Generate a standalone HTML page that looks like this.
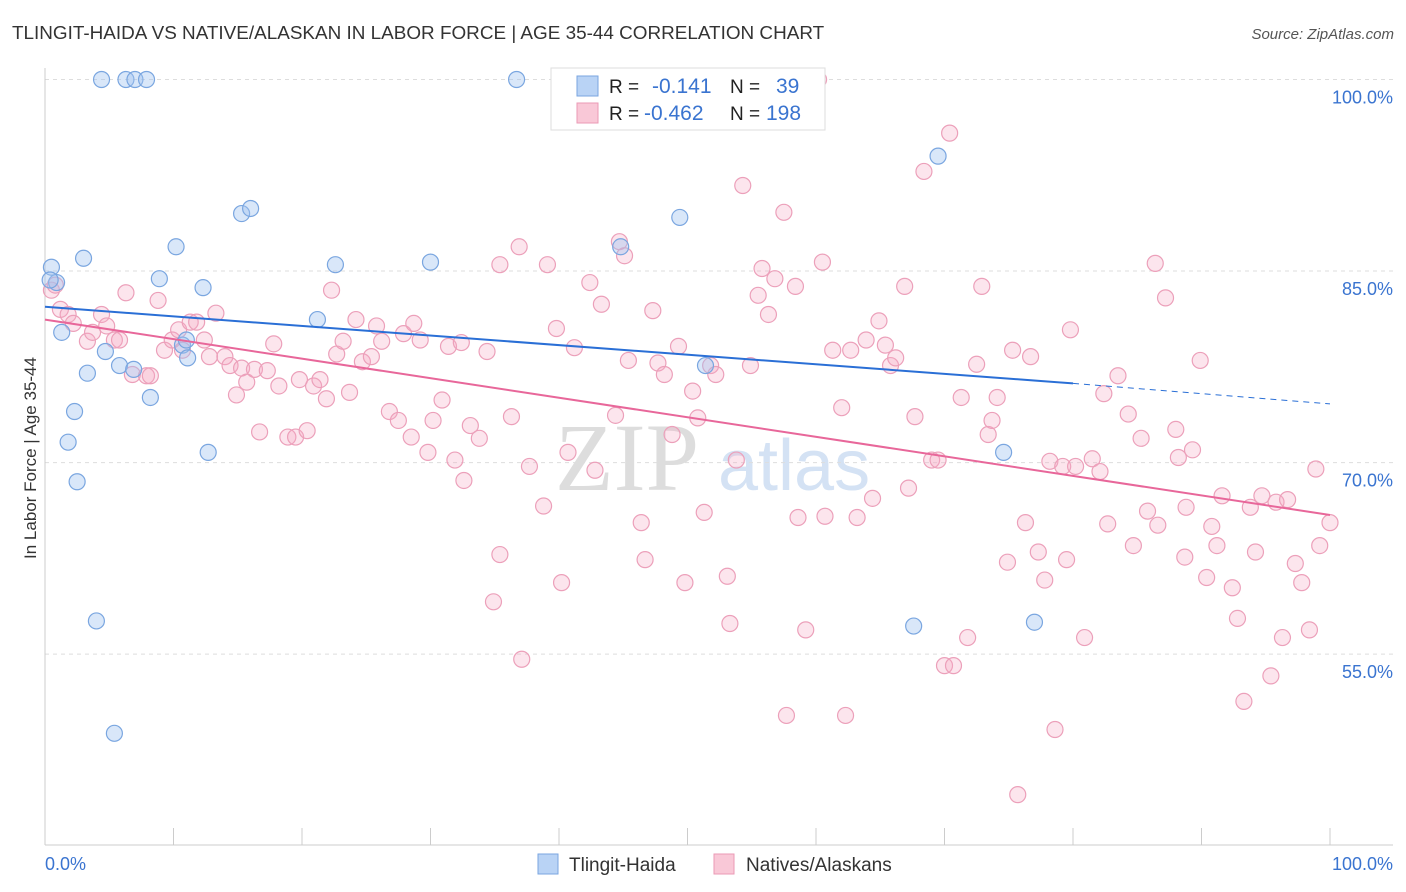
<!DOCTYPE html>
<html><head><meta charset="utf-8"><style>
body{margin:0;background:#fff;font-family:"Liberation Sans",sans-serif;}
svg{display:block}
</style></head><body>
<svg id="chart" width="1406" height="892">
<text x="12" y="39" font-size="18.9" fill="#333">TLINGIT-HAIDA VS NATIVE/ALASKAN IN LABOR FORCE | AGE 35-44 CORRELATION CHART</text>
<text x="1394" y="39" font-size="15" fill="#555" font-style="italic" text-anchor="end">Source: ZipAtlas.com</text>
<text x="36" y="458" font-size="17" fill="#333" text-anchor="middle" transform="rotate(-90 36 458)">In Labor Force | Age 35-44</text>
<text x="555" y="490" font-size="96" fill="#ddd" font-family="Liberation Serif,serif">ZIP</text>
<text x="718" y="490" font-size="72" fill="#d4e2f4">atlas</text>
<g id="grid"></g>
<g id="axes"></g>
<g id="pts"></g>
<g id="lines"></g>
<g>
<rect x="551" y="68" width="274" height="62" fill="#fff" stroke="#ddd"/>
<rect x="577" y="76" width="21" height="20" fill="#b9d3f5" stroke="#7aa6e0"/>
<rect x="577" y="103" width="21" height="20" fill="#f9c8d7" stroke="#eb9ab5"/>
<text x="609" y="93" font-size="19" fill="#222">R =</text>
<text x="652" y="93" font-size="21" fill="#3a74d0">-0.141</text>
<text x="730" y="93" font-size="19" fill="#222">N =</text>
<text x="776" y="93" font-size="21" fill="#3a74d0">39</text>
<text x="609" y="120" font-size="19" fill="#222">R =</text>
<text x="644" y="120" font-size="21" fill="#3a74d0">-0.462</text>
<text x="730" y="120" font-size="19" fill="#222">N =</text>
<text x="766" y="120" font-size="21" fill="#3a74d0">198</text>
</g>
<g>
<rect x="538" y="854" width="20" height="20" fill="#b9d3f5" stroke="#7aa6e0"/>
<text x="569" y="871" font-size="19" fill="#333">Tlingit-Haida</text>
<rect x="714" y="854" width="20" height="20" fill="#f9c8d7" stroke="#eb9ab5"/>
<text x="746" y="871" font-size="19" fill="#333">Natives/Alaskans</text>
</g>
</svg>
<script>
const yTicks=[100,85,70,55];
const yTickLabels=["100.0%","85.0%","70.0%","55.0%"];
const xTicks=[0,10,20,30,40,50,60,70,80,90,100];
const xEndLabels=["0.0%","100.0%"];
const blueX=[0.9,0.5,3.0,1.3,3.3,2.3,1.8,2.5,4.0,5.4,4.4,6.3,7.0,7.9,4.7,5.8,6.9,8.2,8.9,10.2,10.7,11.1,12.3,12.7,15.3,16.0,21.2,22.6,30.0,36.7,44.8,49.4,51.4,67.6,69.5,74.6,77.0,0.4,11.0];
const blueY=[84.1,85.3,86.0,80.2,77.0,74.0,71.6,68.5,57.6,48.8,100,100,100,100,78.7,77.6,77.3,75.1,84.4,86.9,79.2,78.2,83.7,70.8,89.5,89.9,81.2,85.5,85.7,100,86.9,89.2,77.6,57.2,94.0,70.8,57.5,84.3,79.6];
const pinkX=[0.5,0.8,1.2,1.8,2.2,3.3,3.7,4.4,4.8,5.4,5.8,6.3,6.8,7.9,8.2,8.8,9.3,9.9,10.4,10.7,11.3,11.8,12.4,12.8,13.3,14.0,14.4,14.9,15.3,15.7,16.3,16.7,17.3,17.8,18.2,18.9,19.5,19.8,20.4,20.9,21.4,21.9,22.3,22.7,23.2,23.7,24.2,24.7,25.4,25.8,26.2,26.8,27.5,27.9,28.5,28.7,29.2,29.8,30.2,30.9,31.4,31.9,32.4,32.6,33.1,33.8,34.4,34.9,35.4,35.4,36.3,36.9,37.1,37.7,38.8,39.1,39.8,40.2,40.7,41.2,42.4,42.8,43.3,44.4,44.7,45.1,45.4,46.4,46.7,47.3,47.7,48.2,48.8,49.3,49.8,50.4,50.8,51.3,51.8,52.2,53.1,53.3,53.8,54.3,54.9,55.5,55.8,56.3,56.8,57.5,58.4,57.7,58.6,59.2,60.5,60.7,61.3,62.0,62.3,62.7,63.2,63.9,64.4,64.9,65.4,65.8,66.2,66.9,67.2,67.7,68.4,69.0,69.5,70.0,70.4,70.7,71.3,71.8,72.5,72.9,73.4,73.7,74.1,74.9,75.3,75.7,76.3,76.7,77.3,77.8,78.2,78.6,79.2,79.5,79.8,80.2,80.9,81.5,82.1,82.4,82.7,83.5,84.3,84.7,85.3,85.8,86.4,86.6,87.2,88.0,88.2,88.7,89.3,89.9,90.4,90.8,91.2,91.6,92.4,92.8,93.3,93.8,94.2,94.7,95.4,95.8,96.3,96.7,97.3,97.8,98.4,98.9,99.2,100,88.8,60.2,54.6];
const pinkY=[83.5,83.9,82.0,81.6,80.9,79.5,80.2,81.6,80.7,79.6,79.6,83.3,76.9,76.8,76.8,82.7,78.8,79.6,80.4,78.8,81.0,81.0,79.6,78.3,81.7,78.3,77.6,75.3,77.4,76.3,77.3,72.4,77.2,79.3,76.0,72.0,72.0,76.5,72.5,76.0,76.5,75.0,83.5,78.5,79.5,75.5,81.2,77.9,78.3,80.7,79.5,74.0,73.3,80.1,72.0,80.9,79.6,70.8,73.3,74.9,79.1,70.2,79.4,68.6,72.9,71.9,78.7,59.1,62.8,85.5,73.6,86.9,54.6,69.7,66.6,85.5,80.5,60.6,70.8,79.0,84.1,69.4,82.4,73.7,87.3,86.2,78.0,65.3,62.4,81.9,77.8,76.9,72.2,79.1,60.6,75.6,73.5,66.1,77.6,76.9,61.1,57.4,70.2,91.7,77.6,83.1,85.2,81.6,84.4,89.6,83.8,50.2,65.7,56.9,85.7,65.8,78.8,74.3,50.2,78.8,65.7,79.6,67.2,81.1,79.2,77.6,78.2,83.8,68.0,73.6,92.8,70.2,70.2,54.1,95.8,54.1,75.1,56.3,77.7,83.8,72.2,73.3,75.1,62.2,78.8,44.0,65.3,78.3,63.0,60.8,70.1,49.1,69.7,62.4,80.4,69.7,56.3,70.3,69.3,75.4,65.2,76.8,73.8,63.5,71.9,66.2,85.6,65.1,82.9,72.6,70.4,62.6,71.0,78.0,61.0,65.0,63.5,67.4,60.2,57.8,51.3,66.5,63.0,67.4,53.3,66.9,56.3,67.1,62.1,60.6,56.9,69.5,63.5,65.3,66.5,100,100];
const blueTrend=[82.2,76.2,74.6];
const blueTrendX=[0,80,100];
const pinkTrend=[81.2,65.9];
const pinkTrendX=[0,100];

const NS="http://www.w3.org/2000/svg";
const X0=45,X1=1330,Y100=79.5,PXPER=12.77;
const sx=v=>X0+(X1-X0)*v/100;
const sy=v=>Y100+(100-v)*PXPER;
function mk(tag,attrs,parent){const e=document.createElementNS(NS,tag);for(const k in attrs)e.setAttribute(k,attrs[k]);parent.appendChild(e);return e;}
const grid=document.getElementById('grid'),axes=document.getElementById('axes'),pts=document.getElementById('pts'),lines=document.getElementById('lines');
yTicks.forEach((t,i)=>{
  const l=mk('line',{x1:X0,x2:1393,y1:sy(t),y2:sy(t),stroke:'#ddd','stroke-dasharray':'4 4'},grid);
  
  
  const tx=mk('text',{x:1393,y:sy(t)+24,'font-size':18,fill:'#3a74d0','text-anchor':'end'},grid);
  tx.textContent=yTickLabels[i];
  
  
});
let a=mk('line',{x1:X0,x2:X0,y1:68,y2:845,stroke:'#ccc'},axes);


a=mk('line',{x1:X0,x2:1393,y1:845,y2:845,stroke:'#ccc'},axes);


xTicks.forEach(t=>{
  const l=mk('line',{x1:sx(t),x2:sx(t),y1:828,y2:845,stroke:'#ccc'},axes);
  
  
});
let t0=mk('text',{x:45,y:870,'font-size':18,fill:'#3a74d0'},axes);t0.textContent=xEndLabels[0];


let t1=mk('text',{x:1393,y:870,'font-size':18,fill:'#3a74d0','text-anchor':'end'},axes);t1.textContent=xEndLabels[1];


pinkX.forEach((v,i)=>{
  const c=mk('circle',{cx:sx(v),cy:sy(pinkY[i]),r:8,fill:'rgba(245,170,195,0.3)',stroke:'#eca0ba','stroke-width':1.2},pts);
  
  
});
blueX.forEach((v,i)=>{
  const c=mk('circle',{cx:sx(v),cy:sy(blueY[i]),r:8,fill:'rgba(160,195,240,0.4)',stroke:'#7aa6e0','stroke-width':1.2},pts);
  
  
});
let bl=mk('line',{x1:sx(blueTrendX[0]),y1:sy(blueTrend[0]),x2:sx(blueTrendX[1]),y2:sy(blueTrend[1]),stroke:'#2a6fd6','stroke-width':2},lines);


let bd=mk('line',{x1:sx(blueTrendX[1]),y1:sy(blueTrend[1]),x2:sx(blueTrendX[2]),y2:sy(blueTrend[2]),stroke:'#2a6fd6','stroke-width':1,'stroke-dasharray':'6 5'},lines);


let pl=mk('line',{x1:sx(pinkTrendX[0]),y1:sy(pinkTrend[0]),x2:sx(pinkTrendX[1]),y2:sy(pinkTrend[1]),stroke:'#e8679a','stroke-width':2},lines);


</script>
</body></html>
